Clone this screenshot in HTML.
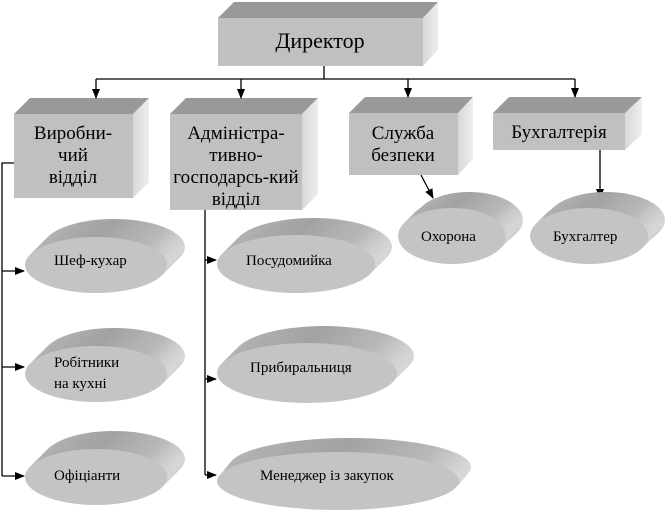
<!DOCTYPE html>
<html><head><meta charset="utf-8"><style>
html,body{margin:0;padding:0;background:#fff;width:668px;height:515px;overflow:hidden}
svg{display:block}
</style></head><body>
<svg width="668" height="515" viewBox="0 0 668 515" xmlns="http://www.w3.org/2000/svg" font-family="'Liberation Serif', 'DejaVu Serif', serif">
<defs>
<linearGradient id="side" x1="0" y1="0" x2="1" y2="0"><stop offset="0" stop-color="#d8d8d8"/><stop offset="1" stop-color="#eeeeee"/></linearGradient>
<linearGradient id="ext" x1="0" y1="0" x2="1" y2="0"><stop offset="0" stop-color="#b4b4b4"/><stop offset="0.5" stop-color="#a2a2a2"/><stop offset="0.85" stop-color="#b8b8b8"/><stop offset="1" stop-color="#d8d8d8"/></linearGradient>
<marker id="ar" markerWidth="10" markerHeight="10" refX="9" refY="5" orient="auto" markerUnits="userSpaceOnUse"><path d="M0,1 L10,5 L0,9 z" fill="#000"/></marker>
</defs>

<g>
<polygon points="218,18 234,2 438,2 423,18" fill="#999"/>
<polygon points="423,18 438,2 438,50 423,66" fill="url(#side)"/>
<rect x="218" y="18" width="205" height="48" fill="#c0c0c0"/>
<text x="320" y="48" font-size="22" text-anchor="middle" font-family="'Liberation Serif', serif">Директор</text>

<polygon points="14,114 30,98 149,98 133,114" fill="#999"/>
<polygon points="133,114 149,98 149,182 133,198" fill="url(#side)"/>
<rect x="14" y="114" width="119" height="84" fill="#c0c0c0"/>
<g font-size="19" text-anchor="middle" font-family="'Liberation Serif', serif">
<text x="73" y="139">Виробни-</text>
<text x="73" y="161">чий</text>
<text x="73" y="183">відділ</text>
</g>

<polygon points="170,114 186,98 318,98 302,114" fill="#999"/>
<polygon points="302,114 318,98 318,194 302,210" fill="url(#side)"/>
<rect x="170" y="114" width="132" height="96" fill="#c0c0c0"/>
<g font-size="19" text-anchor="middle" font-family="'Liberation Serif', serif">
<text x="236" y="139">Адміністра-</text>
<text x="236" y="161">тивно-</text>
<text x="236" y="183">господарсь-кий</text>
<text x="236" y="205">відділ</text>
</g>

<polygon points="349,113 365,97 473,97 458,113" fill="#999"/>
<polygon points="458,113 473,97 473,159 458,175" fill="url(#side)"/>
<rect x="349" y="113" width="109" height="62" fill="#c0c0c0"/>
<g font-size="19" text-anchor="middle" font-family="'Liberation Serif', serif">
<text x="403" y="139">Служба</text>
<text x="403" y="161">безпеки</text>
</g>

<polygon points="493,113 509,97 642,97 625,113" fill="#999"/>
<polygon points="625,113 642,97 642,134 625,150" fill="url(#side)"/>
<rect x="493" y="113" width="132" height="37" fill="#c0c0c0"/>
<text x="559" y="138" font-size="19" text-anchor="middle" font-family="'Liberation Serif', serif">Бухгалтерія</text>
</g>

<g stroke="#000" stroke-width="1.3" fill="none">
<line x1="324" y1="66" x2="324" y2="79"/>
<line x1="96" y1="79" x2="575" y2="79"/>
<line x1="96" y1="79" x2="96" y2="98" marker-end="url(#ar)"/>
<line x1="241" y1="79" x2="241" y2="98" marker-end="url(#ar)"/>
<line x1="408" y1="79" x2="408" y2="97" marker-end="url(#ar)"/>
<line x1="575" y1="79" x2="575" y2="97" marker-end="url(#ar)"/>
<polyline points="14,163 2,163 2,476"/>
<line x1="2" y1="271" x2="24" y2="271" marker-end="url(#ar)"/>
<line x1="2" y1="367" x2="24" y2="367" marker-end="url(#ar)"/>
<line x1="2" y1="476" x2="24" y2="476" marker-end="url(#ar)"/>
<line x1="205" y1="210" x2="205" y2="475"/>
<line x1="205" y1="260" x2="216" y2="260" marker-end="url(#ar)"/>
<line x1="205" y1="379" x2="216" y2="379" marker-end="url(#ar)"/>
<line x1="205" y1="475" x2="216" y2="475" marker-end="url(#ar)"/>
<line x1="421" y1="175" x2="433" y2="198" marker-end="url(#ar)"/>
<line x1="600" y1="150" x2="600" y2="198" marker-end="url(#ar)"/>
</g>

<g fill="url(#ext)">
<ellipse cx="114" cy="247" rx="71" ry="28"/><ellipse cx="111" cy="250" rx="71" ry="28"/><ellipse cx="108" cy="253" rx="71" ry="28"/><ellipse cx="105" cy="256" rx="71" ry="28"/><ellipse cx="102" cy="259" rx="71" ry="28"/><ellipse cx="99" cy="262" rx="71" ry="28"/>
<ellipse cx="114" cy="356" rx="71" ry="28"/><ellipse cx="111" cy="359" rx="71" ry="28"/><ellipse cx="108" cy="362" rx="71" ry="28"/><ellipse cx="105" cy="365" rx="71" ry="28"/><ellipse cx="102" cy="368" rx="71" ry="28"/><ellipse cx="99" cy="371" rx="71" ry="28"/>
<ellipse cx="114" cy="459" rx="71" ry="28"/><ellipse cx="111" cy="462" rx="71" ry="28"/><ellipse cx="108" cy="465" rx="71" ry="28"/><ellipse cx="105" cy="468" rx="71" ry="28"/><ellipse cx="102" cy="471" rx="71" ry="28"/><ellipse cx="99" cy="474" rx="71" ry="28"/>
<ellipse cx="313" cy="247" rx="79" ry="29"/><ellipse cx="310" cy="250" rx="79" ry="29"/><ellipse cx="307" cy="253" rx="79" ry="29"/><ellipse cx="304" cy="256" rx="79" ry="29"/><ellipse cx="301" cy="259" rx="79" ry="29"/><ellipse cx="298" cy="262" rx="79" ry="29"/>
<ellipse cx="324" cy="356" rx="90" ry="30"/><ellipse cx="321" cy="359" rx="90" ry="30"/><ellipse cx="318" cy="362" rx="90" ry="30"/><ellipse cx="315" cy="365" rx="90" ry="30"/><ellipse cx="312" cy="368" rx="90" ry="30"/><ellipse cx="309" cy="371" rx="90" ry="30"/>
<ellipse cx="350" cy="467" rx="121" ry="29"/><ellipse cx="348" cy="469" rx="121" ry="29"/><ellipse cx="346" cy="472" rx="121" ry="29"/><ellipse cx="344" cy="474" rx="121" ry="29"/><ellipse cx="342" cy="477" rx="121" ry="29"/><ellipse cx="340" cy="479" rx="121" ry="29"/>
<ellipse cx="469" cy="220" rx="54" ry="28"/><ellipse cx="466" cy="223" rx="54" ry="28"/><ellipse cx="463" cy="225" rx="54" ry="28"/><ellipse cx="460" cy="228" rx="54" ry="28"/><ellipse cx="457" cy="231" rx="54" ry="28"/><ellipse cx="454" cy="234" rx="54" ry="28"/>
<ellipse cx="606" cy="220" rx="59" ry="28"/><ellipse cx="603" cy="223" rx="59" ry="28"/><ellipse cx="600" cy="225" rx="59" ry="28"/><ellipse cx="597" cy="228" rx="59" ry="28"/><ellipse cx="594" cy="231" rx="59" ry="28"/><ellipse cx="591" cy="234" rx="59" ry="28"/>
</g>
<g fill="#c4c4c4">
<ellipse cx="96" cy="265" rx="71" ry="28"/>
<ellipse cx="96" cy="374" rx="71" ry="28"/>
<ellipse cx="96" cy="477" rx="71" ry="28"/>
<ellipse cx="296" cy="264" rx="79" ry="29"/>
<ellipse cx="307" cy="373" rx="90" ry="30"/>
<ellipse cx="338" cy="481" rx="121" ry="29"/>
<ellipse cx="452" cy="236" rx="54" ry="28"/>
<ellipse cx="589" cy="236" rx="59" ry="28"/>
</g>
<g font-size="15" font-family="'Liberation Serif', serif">
<text x="54" y="265">Шеф-кухар</text>
<text x="54" y="367">Робітники</text>
<text x="54" y="388">на кухні</text>
<text x="54" y="480">Офіціанти</text>
<text x="246" y="265">Посудомийка</text>
<text x="250" y="372">Прибиральниця</text>
<text x="260" y="480">Менеджер із закупок</text>
<text x="421" y="241">Охорона</text>
<text x="553" y="241">Бухгалтер</text>
</g>
</svg>
</body></html>
